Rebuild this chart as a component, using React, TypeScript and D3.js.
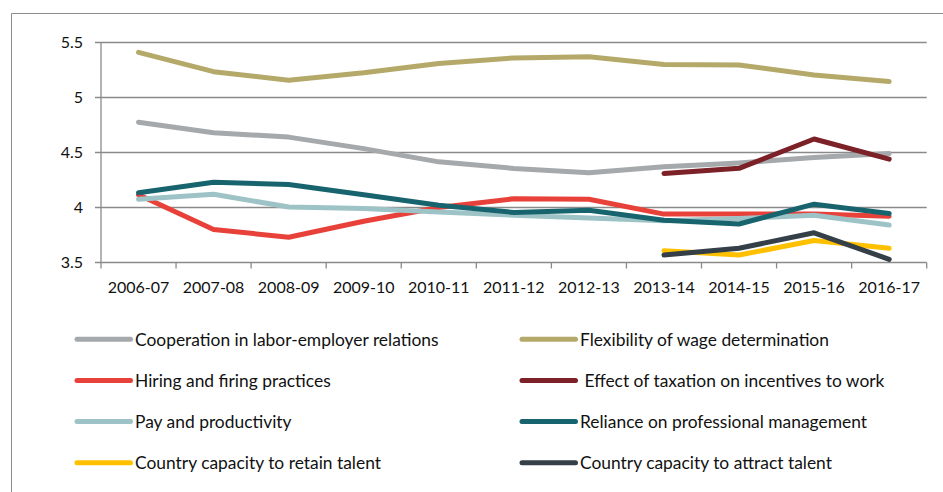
import React from "react";
import * as d3 from "d3";

const categories = ["2006-07","2007-08","2008-09","2009-10","2010-11","2011-12","2012-13","2013-14","2014-15","2015-16","2016-17"];
const yTicks = [3.5, 4, 4.5, 5, 5.5];
const yTickLabels = ["3.5", "4", "4.5", "5", "5.5"];

const seriesNames = [
  "Cooperation in labor-employer relations",
  "Flexibility of wage determination",
  "Hiring and firing practices",
  " Effect of taxation on incentives to work",
  "Pay and productivity",
  "Reliance on professional management",
  "Country capacity to retain talent",
  "Country capacity to attract talent",
];
const seriesColors = ["#A5A9AC", "#B5A96A", "#E8413A", "#7B2127", "#9DC3C6", "#17646E", "#FFC000", "#353F48"];

const cooperation = [4.775, 4.68, 4.64, 4.535, 4.415, 4.355, 4.315, 4.37, 4.405, 4.455, 4.49];
const flexibility = [5.41, 5.235, 5.156, 5.225, 5.31, 5.36, 5.37, 5.30, 5.295, 5.205, 5.145];
const hiring = [4.115, 3.80, 3.73, 3.875, 4.0, 4.08, 4.075, 3.94, 3.94, 3.94, 3.92];
const taxation = [null, null, null, null, null, null, null, 4.31, 4.356, 4.623, 4.44];
const pay = [4.075, 4.12, 4.005, 3.99, 3.96, 3.93, 3.905, 3.88, 3.90, 3.93, 3.84];
const reliance = [4.135, 4.23, 4.21, 4.115, 4.02, 3.955, 3.975, 3.885, 3.85, 4.03, 3.945];
const retain = [null, null, null, null, null, null, null, 3.607, 3.568, 3.70, 3.629];
const attract = [null, null, null, null, null, null, null, 3.568, 3.629, 3.77, 3.529];

const seriesValues: (number | null)[][] = [cooperation, flexibility, hiring, taxation, pay, reliance, retain, attract];

const W = 943;
const H = 492;
const FONT = "Lato, 'Open Sans', sans-serif";
const AXIS = "#8A8A8A";

export default function App() {
  const x = d3.scaleBand<string>().domain(categories).range([101, 926.7]).padding(0);
  const y = d3.scaleLinear().domain([3.5, 5.5]).range([262.5, 42.5]);
  const bw = x.bandwidth();
  const cx = (c: string) => (x(c) as number) + bw / 2;

  const line = d3
    .line<number | null>()
    .defined((d) => d !== null)
    .x((_, i) => cx(categories[i]))
    .y((d) => y(d as number));

  const tickXs = categories.map((c) => x(c) as number).concat([926.7]);

  const legendRowsY = [339.3, 380.6, 421.5, 462.7];
  const legendCols = [{ x1: 77, x2: 130.5, tx: 135 }, { x1: 522, x2: 575.5, tx: 580 }];

  return (
    <svg width={W} height={H} style={{ position: "absolute", left: 0, top: 0, background: "#fff" }} fontFamily={FONT}>
      <rect x={0} y={0} width={W} height={H} fill="#fff" />
      {/* frame */}
      <line x1={11.5} y1={13.5} x2={W} y2={13.5} stroke="#8C8C8C" strokeWidth={1} />
      <line x1={11.5} y1={13.5} x2={11.5} y2={H} stroke="#8C8C8C" strokeWidth={1} />

      {/* gridlines */}
      {yTicks.map((t, i) => (
        <line key={"g" + i} x1={95} x2={926.7} y1={y(t)} y2={y(t)} stroke={AXIS} strokeWidth={1.3} />
      ))}
      {/* y axis */}
      <line x1={101} x2={101} y1={y(5.5)} y2={y(3.5)} stroke={AXIS} strokeWidth={1.3} />
      {/* x ticks */}
      {tickXs.map((tx, i) => (
        <line key={"xt" + i} x1={tx} x2={tx} y1={y(3.5)} y2={y(3.5) + 6} stroke={AXIS} strokeWidth={1.3} />
      ))}
      {/* y labels */}
      {yTicks.map((t, i) => (
        <text key={"yl" + i} x={83} y={y(t)} dy="0.36em" textAnchor="end" fontSize={16} fill="#111">
          {yTickLabels[i]}
        </text>
      ))}
      {/* x labels */}
      {categories.map((c) => (
        <text key={"xl" + c} x={cx(c)} y={293.3} textAnchor="middle" fontSize={16} fill="#111">
          {c}
        </text>
      ))}

      {/* series */}
      {seriesValues.map((vals, i) => (
        <path
          key={"s" + i}
          d={line(vals) || ""}
          fill="none"
          stroke={seriesColors[i]}
          strokeWidth={5}
          strokeLinejoin="round"
          strokeLinecap="round"
        />
      ))}

      {/* legend */}
      {seriesNames.map((name, i) => {
        const col = legendCols[i % 2];
        const ry = legendRowsY[Math.floor(i / 2)];
        return (
          <g key={"lg" + i}>
            <line x1={col.x1} x2={col.x2} y1={ry} y2={ry} stroke={seriesColors[i]} strokeWidth={5} strokeLinecap="round" />
            <text x={col.tx} y={ry} dy="0.36em" fontSize={17.4} fill="#111" style={{ whiteSpace: "pre" }}>
              {name}
            </text>
          </g>
        );
      })}
    </svg>
  );
}
